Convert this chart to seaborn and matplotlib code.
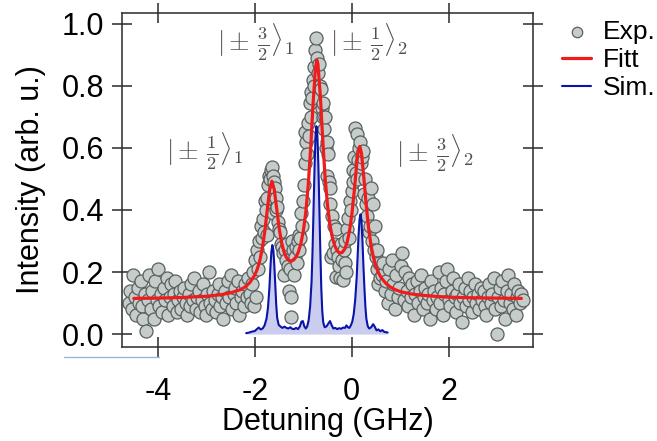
import numpy as np
import pandas as pd
import matplotlib
matplotlib.use("Agg")
import matplotlib.pyplot as plt
import seaborn as sns
from matplotlib.lines import Line2D

# ---------------- data ----------------
exp_x = [
    -4.60, -4.57, -4.54, -4.51, -4.48, -4.45, -4.42, -4.39, -4.36, -4.33, -4.30, -4.27, -4.24, -4.21,
    -4.18, -4.15, -4.12, -4.09, -4.06, -4.03, -4.00, -3.97, -3.94, -3.91, -3.88, -3.85, -3.82, -3.79,
    -3.76, -3.73, -3.70, -3.67, -3.64, -3.61, -3.58, -3.55, -3.52, -3.49, -3.46, -3.43, -3.40, -3.37,
    -3.34, -3.31, -3.28, -3.25, -3.22, -3.19, -3.16, -3.13, -3.10, -3.07, -3.04, -3.01, -2.98, -2.95,
    -2.92, -2.89, -2.86, -2.83, -2.80, -2.77, -2.74, -2.71, -2.68, -2.65, -2.62, -2.59, -2.56, -2.53,
    -2.50, -2.47, -2.44, -2.41, -2.38, -2.35, -2.32, -2.29, -2.26, -2.23, -2.20, -2.17, -2.14, -2.11,
    -2.08, -2.05,
    -2.03, -2.01, -1.99, -1.97, -1.95, -1.93, -1.91, -1.89, -1.87, -1.85, -1.83, -1.81, -1.79, -1.77,
    -1.76, -1.75, -1.73, -1.71, -1.69, -1.67, -1.65, -1.63, -1.62, -1.61, -1.59, -1.57, -1.56, -1.54,
    -1.52, -1.50, -1.48, -1.46, -1.44, -1.42, -1.40, -1.38, -1.36, -1.34, -1.32, -1.30, -1.28, -1.26,
    -1.25, -1.24, -1.22, -1.20, -1.18, -1.16, -1.14, -1.12, -1.10, -1.08, -1.06, -1.04, -1.02, -1.00,
    -0.99, -0.97, -0.96, -0.94, -0.92, -0.90, -0.88, -0.87, -0.85, -0.84, -0.82, -0.80, -0.78, -0.77,
    -0.75, -0.73, -0.71, -0.69, -0.67, -0.65, -0.63, -0.62, -0.60, -0.59, -0.58, -0.56, -0.54, -0.52,
    -0.51, -0.49, -0.48, -0.46, -0.44, -0.43, -0.41, -0.39, -0.37, -0.35, -0.33, -0.32, -0.30, -0.28,
    -0.26, -0.25, -0.23, -0.21, -0.19, -0.17, -0.15, -0.13, -0.11, -0.09, -0.07, -0.05, -0.04, -0.02,
    0.00, 0.02, 0.03, 0.05, 0.06, 0.08, 0.10, 0.11, 0.13, 0.15, 0.17, 0.19, 0.21, 0.24,
    0.26, 0.28, 0.30, 0.32, 0.34, 0.36, 0.38, 0.40, 0.42, 0.44, 0.46, 0.47, 0.49, 0.51,
    0.53, 0.55, 0.57, 0.59,
    0.62, 0.65, 0.68, 0.71, 0.74, 0.77, 0.80, 0.83, 0.86, 0.89, 0.92, 0.95, 0.98, 1.01,
    1.04, 1.07, 1.10, 1.13, 1.16, 1.19, 1.22, 1.25, 1.28, 1.31, 1.34, 1.37, 1.40, 1.43,
    1.46, 1.49, 1.52, 1.55, 1.58, 1.61, 1.64, 1.67, 1.70, 1.73, 1.76, 1.79, 1.82, 1.85,
    1.88, 1.91, 1.94, 1.97, 2.00, 2.03, 2.06, 2.09, 2.12, 2.15, 2.18, 2.21, 2.24, 2.27,
    2.30, 2.33, 2.36, 2.39, 2.42, 2.45, 2.48, 2.51, 2.54, 2.57, 2.60, 2.63, 2.66, 2.69,
    2.72, 2.75, 2.78, 2.81, 2.84, 2.87, 2.90, 2.93, 2.96, 2.99, 3.02, 3.05, 3.08, 3.11,
    3.14, 3.17, 3.20, 3.23, 3.26, 3.29, 3.32, 3.35, 3.38, 3.41, 3.44, 3.47, 3.50, 3.53,
]
exp_y = [
    0.10, 0.14, 0.08, 0.19, 0.12, 0.06, 0.15, 0.10, 0.17, 0.09, 0.05, 0.13, 0.01, 0.11,
    0.19, 0.08, 0.14, 0.05, 0.17, 0.11, 0.21, 0.09, 0.13, 0.07, 0.15, 0.11, 0.18, 0.06,
    0.12, 0.16, 0.09, 0.13, 0.17, 0.07, 0.11, 0.14, 0.08, 0.12, 0.15, 0.10, 0.06, 0.13,
    0.09, 0.16, 0.11, 0.18, 0.08, 0.12, 0.14, 0.07, 0.11, 0.16, 0.09, 0.06, 0.13, 0.20,
    0.10, 0.08, 0.14, 0.11, 0.07, 0.13, 0.16, 0.09, 0.12, 0.05, 0.14, 0.10, 0.17, 0.12,
    0.19, 0.08, 0.13, 0.15, 0.10, 0.17, 0.06, 0.12, 0.14, 0.09, 0.16, 0.12, 0.18, 0.13,
    0.10, 0.16,
    0.20, 0.09, 0.24, 0.12, 0.27, 0.21, 0.30, 0.25, 0.35, 0.31, 0.37, 0.33, 0.43, 0.40,
    0.32, 0.44, 0.48, 0.51, 0.50, 0.53, 0.54, 0.51, 0.39, 0.49, 0.47, 0.44, 0.40, 0.41,
    0.36, 0.34, 0.33, 0.29, 0.28, 0.26, 0.19, 0.27, 0.24, 0.29, 0.22, 0.14, 0.21, 0.12,
    0.055, 0.30, 0.27, 0.19, 0.25, 0.28, 0.23, 0.30, 0.27, 0.32, 0.31, 0.39, 0.35, 0.43,
    0.48, 0.55, 0.65, 0.62, 0.58, 0.68, 0.64, 0.745, 0.70, 0.78, 0.76, 0.82, 0.80, 0.86,
    0.915, 0.955, 0.89, 0.84, 0.87, 0.80, 0.79, 0.73, 0.70, 0.745, 0.66, 0.70, 0.60, 0.51,
    0.62, 0.58, 0.49, 0.42, 0.47, 0.25, 0.38, 0.26, 0.35, 0.29, 0.34, 0.185, 0.27, 0.25,
    0.22, 0.18, 0.29, 0.24, 0.175, 0.27, 0.23, 0.30, 0.20, 0.34, 0.375, 0.31, 0.43, 0.40,
    0.46, 0.53, 0.49, 0.57, 0.665, 0.52, 0.645, 0.50, 0.56, 0.60, 0.62, 0.55, 0.57, 0.59,
    0.45, 0.50, 0.42, 0.38, 0.44, 0.33, 0.35, 0.47, 0.30, 0.42, 0.27, 0.35, 0.25, 0.21,
    0.27, 0.16, 0.23, 0.18,
    0.19, 0.23, 0.14, 0.17, 0.10, 0.21, 0.13, 0.24, 0.16, 0.08, 0.19, 0.12, 0.15, 0.22,
    0.26, 0.11, 0.20, 0.14, 0.09, 0.18, 0.12, 0.16, 0.06, 0.13, 0.17, 0.10, 0.14, 0.19,
    0.08, 0.12, 0.15, 0.10, 0.13, 0.05, 0.17, 0.11, 0.14, 0.08, 0.12, 0.20, 0.10, 0.15,
    0.06, 0.13, 0.17, 0.21, 0.11, 0.09, 0.14, 0.18, 0.12, 0.07, 0.13, 0.16, 0.10, 0.04,
    0.12, 0.15, 0.09, 0.18, 0.11, 0.14, 0.07, 0.12, 0.16, 0.10, 0.13, 0.08, 0.15, 0.11,
    0.14, 0.09, 0.06, 0.12, 0.16, 0.10, 0.13, 0.18, 0.08, 0.00, 0.12, 0.15, 0.09, 0.17,
    0.11, 0.05, 0.14, 0.19, 0.10, 0.13, 0.08, 0.16, 0.06, 0.12, 0.14, 0.10, 0.13, 0.11,
]

fit_x = [-4.50, -4.00, -3.50, -3.00, -2.70, -2.50, -2.30, -2.20, -2.10, -2.00, -1.95, -1.90,
         -1.85, -1.80, -1.75, -1.70, -1.65, -1.60, -1.55, -1.50, -1.45, -1.40, -1.35, -1.30,
         -1.25, -1.20, -1.15, -1.10, -1.05, -1.00, -0.95, -0.90, -0.85, -0.80, -0.75, -0.72,
         -0.70, -0.65, -0.60, -0.55, -0.50, -0.45, -0.40, -0.35, -0.30, -0.25, -0.20, -0.15,
         -0.10, -0.05, 0.00, 0.05, 0.10, 0.13, 0.165, 0.20, 0.25, 0.30, 0.35, 0.40,
         0.45, 0.50, 0.55, 0.60, 0.70, 0.80, 0.90, 1.00, 1.20, 1.40, 1.70, 2.00,
         2.50, 3.00, 3.50]
fit_y = [0.115, 0.116, 0.118, 0.122, 0.127, 0.133, 0.143, 0.152, 0.167, 0.191, 0.210, 0.236,
         0.274, 0.326, 0.393, 0.461, 0.493, 0.466, 0.404, 0.342, 0.296, 0.265, 0.247, 0.237,
         0.235, 0.239, 0.249, 0.266, 0.293, 0.333, 0.392, 0.478, 0.597, 0.740, 0.859, 0.883,
         0.872, 0.770, 0.627, 0.503, 0.413, 0.351, 0.310, 0.284, 0.268, 0.261, 0.263, 0.273,
         0.294, 0.330, 0.384, 0.460, 0.546, 0.587, 0.605, 0.583, 0.502, 0.411, 0.337, 0.283,
         0.245, 0.218, 0.198, 0.183, 0.164, 0.151, 0.143, 0.137, 0.130, 0.126, 0.122, 0.119,
         0.117, 0.116, 0.115]

sim_x = [-2.18, -2.12, -2.06, -2.00, -1.96, -1.92, -1.88, -1.84, -1.80, -1.76, -1.73, -1.70,
         -1.68, -1.66, -1.64, -1.62, -1.60, -1.58, -1.56, -1.54, -1.51, -1.47, -1.43, -1.39,
         -1.35, -1.31, -1.27, -1.23, -1.19, -1.15, -1.11, -1.07, -1.04, -1.01, -0.98, -0.95,
         -0.92, -0.89, -0.86, -0.83, -0.81, -0.79, -0.77, -0.75, -0.73, -0.71, -0.69, -0.67,
         -0.65, -0.63, -0.61, -0.59, -0.56, -0.52, -0.48, -0.45, -0.42, -0.38, -0.34, -0.30,
         -0.26, -0.22, -0.18, -0.14, -0.11, -0.08, -0.05, -0.02, 0.01, 0.04, 0.07, 0.10,
         0.12, 0.14, 0.16, 0.18, 0.20, 0.22, 0.24, 0.26, 0.28, 0.30, 0.33, 0.36,
         0.40, 0.44, 0.47, 0.51, 0.55, 0.59, 0.63, 0.67, 0.71, 0.74]
sim_y = [0.003, 0.005, 0.008, 0.010, 0.016, 0.021, 0.015, 0.018, 0.028, 0.050, 0.085, 0.150,
         0.215, 0.265, 0.287, 0.272, 0.225, 0.160, 0.095, 0.052, 0.030, 0.024, 0.020, 0.024,
         0.020, 0.018, 0.022, 0.017, 0.016, 0.020, 0.016, 0.025, 0.040, 0.042, 0.025, 0.018,
         0.025, 0.045, 0.090, 0.170, 0.270, 0.400, 0.530, 0.630, 0.670, 0.640, 0.545, 0.410,
         0.270, 0.150, 0.075, 0.038, 0.022, 0.025, 0.035, 0.042, 0.030, 0.018, 0.020, 0.016,
         0.019, 0.017, 0.021, 0.020, 0.028, 0.022, 0.020, 0.028, 0.040, 0.065, 0.110, 0.180,
         0.250, 0.320, 0.370, 0.386, 0.365, 0.300, 0.220, 0.150, 0.090, 0.050, 0.025, 0.018,
         0.022, 0.032, 0.025, 0.012, 0.015, 0.009, 0.013, 0.007, 0.006, 0.005]

state_labels = [r"$|\pm\,\frac{3}{2}\rangle_1$", r"$|\pm\,\frac{1}{2}\rangle_2$",
                r"$|\pm\,\frac{1}{2}\rangle_1$", r"$|\pm\,\frac{3}{2}\rangle_2$"]
state_x = [-1.98, 0.35, -3.05, 1.71]
state_y = [0.94, 0.94, 0.59, 0.585]

x_ticks = [-4, -2, 0, 2]
y_ticks = [0.0, 0.2, 0.4, 0.6, 0.8, 1.0]

# ---------------- style ----------------
sns.set_style("ticks")
plt.rcParams["font.family"] = ["Liberation Sans", "DejaVu Sans"]
plt.rcParams["mathtext.fontset"] = "cm"

fig = plt.figure(figsize=(6.57, 4.41), dpi=100)
ax = fig.add_axes([122 / 657, 1 - 346.5 / 441, 411 / 657, 333.5 / 441])

exp_df = pd.DataFrame({"x": exp_x, "y": exp_y})
fit_df = pd.DataFrame({"x": fit_x, "y": fit_y})
sim_df = pd.DataFrame({"x": sim_x, "y": sim_y})

ax.fill_between(sim_df["x"], 0, sim_df["y"], color="#c9cbef", alpha=0.95, lw=0, zorder=1)
sns.scatterplot(data=exp_df, x="x", y="y", ax=ax, s=88, color="#c6ccca",
                edgecolor="#56605f", linewidth=0.9, label="Exp.", zorder=2)
sns.lineplot(data=fit_df, x="x", y="y", ax=ax, color="#ee1c1c", lw=2.3,
             label="Fitt", sort=False, estimator=None, zorder=4)
sns.lineplot(data=sim_df, x="x", y="y", ax=ax, color="#0a14a8", lw=1.5,
             label="Sim.", sort=False, estimator=None, zorder=3)

for lab, tx, ty in zip(state_labels, state_x, state_y):
    ax.text(tx, ty, lab, fontsize=19, color="#505050", ha="center", va="center", zorder=5)

ax.set_xlim(-4.743, 3.74)
ax.set_ylim(-0.040, 1.035)
ax.set_xticks(x_ticks)
ax.set_xticklabels([str(t) for t in x_ticks])
ax.set_yticks(y_ticks)
ax.set_yticklabels([f"{t:.1f}" for t in y_ticks])
ax.tick_params(direction="inout", length=14, width=1.1, color="#2a2a2a",
               labelsize=22, labelcolor="black", top=True, right=True, pad=6)
ax.tick_params(axis="x", pad=15)
for sp in ax.spines.values():
    sp.set_visible(True)
    sp.set_color("#2a2a2a")
    sp.set_linewidth(1.1)

ax.set_xlabel("Detuning (GHz)", fontsize=22, labelpad=0, color="black")
ax.set_ylabel("Intensity (arb. u.)", fontsize=22, labelpad=11, color="black")

handles, labels = ax.get_legend_handles_labels()
leg = ax.legend(handles, labels, loc="upper left", bbox_to_anchor=(562 / 657, 1 - 20 / 441),
                bbox_transform=fig.transFigure, frameon=False, fontsize=19,
                handlelength=1.1, handletextpad=0.45, labelspacing=0.15,
                borderpad=0, borderaxespad=0, markerscale=0.8)
for t in leg.get_texts():
    t.set_color("black")

# faint blue stroke below the lower-left corner of the axes in the reference
fig.add_artist(Line2D([64 / 657, 159 / 657], [1 - 356.5 / 441, 1 - 356.5 / 441],
                      transform=fig.transFigure, color="#9fb3e3", lw=1.0))

fig.savefig("out.png", dpi=100)
